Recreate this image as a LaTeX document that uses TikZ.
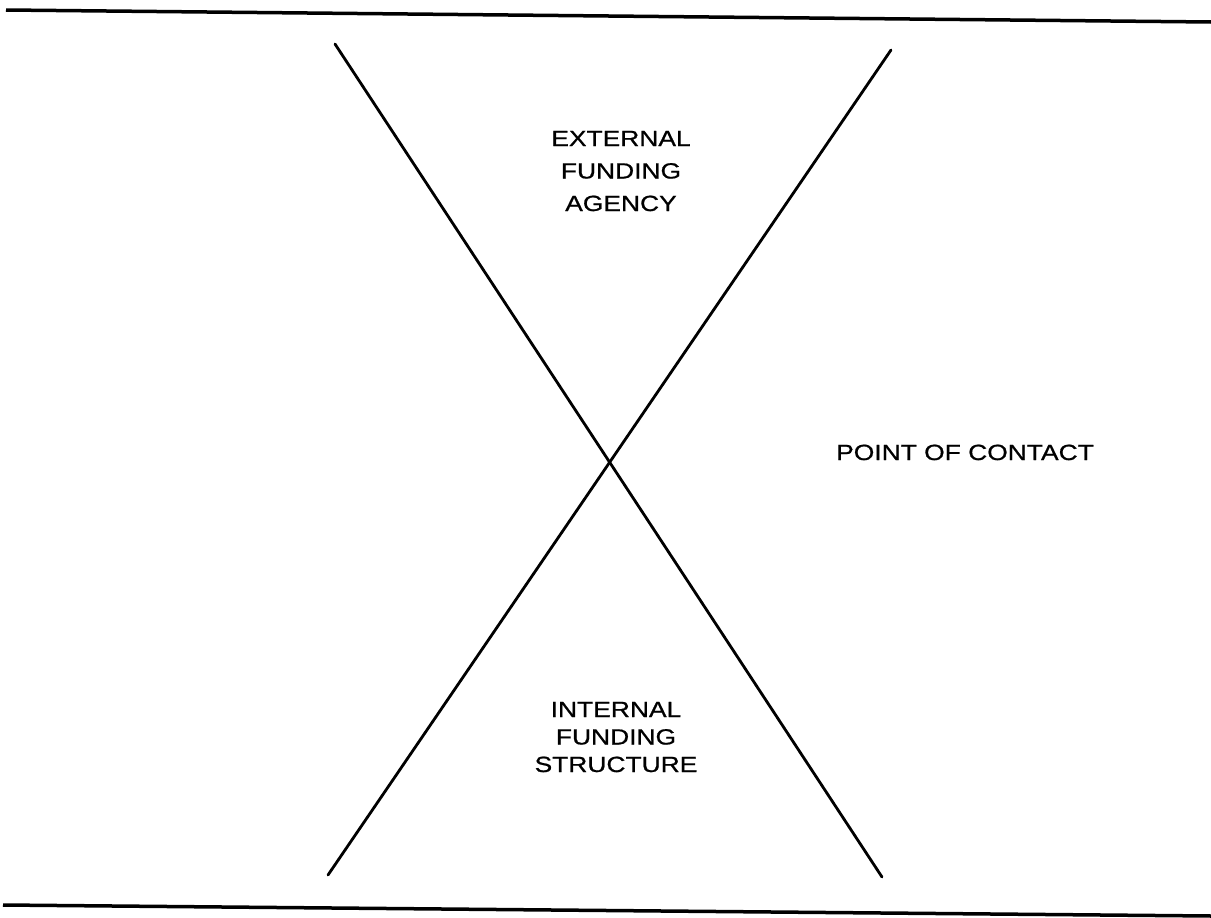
\documentclass[tikz,border=0pt]{standalone}
\usepackage{fontspec}
\newfontfamily\lblfont[FakeStretch=1.2,FakeBold=0.8]{Liberation Sans}
\begin{document}
\begin{tikzpicture}[x=1pt,y=-1pt,
  rule/.style={line width=3.5pt},
  cross/.style={line width=2.8pt, line cap=round},
  lbl/.style={inner sep=0pt, anchor=base, align=center, font=\lblfont\fontsize{22}{32.5}\selectfont},
  lblb/.style={inner sep=0pt, anchor=base, align=center, font=\lblfont\fontsize{22}{27.5}\selectfont}]
\useasboundingbox (0,0) rectangle (1211,918);
\coordinate (tl) at (6,10);
\coordinate (tr) at (1211,22);
\coordinate (bl) at (3,905);
\coordinate (br) at (1211,916);
\coordinate (a1) at (335,44);
\coordinate (a2) at (882,877);
\coordinate (b1) at (891,50);
\coordinate (b2) at (328,875);
\draw[rule] (tl) -- (tr);
\draw[rule] (bl) -- (br);
\draw[cross] (a1) -- (a2);
\draw[cross] (b1) -- (b2);
\node[lbl] (ext) at (621,211) {EXTERNAL\\FUNDING\\AGENCY};
\node[lblb] (int) at (616,772) {INTERNAL\\FUNDING\\STRUCTURE};
\node[lbl] (poc) at (965,460) {POINT OF CONTACT};
\end{tikzpicture}
\end{document}
